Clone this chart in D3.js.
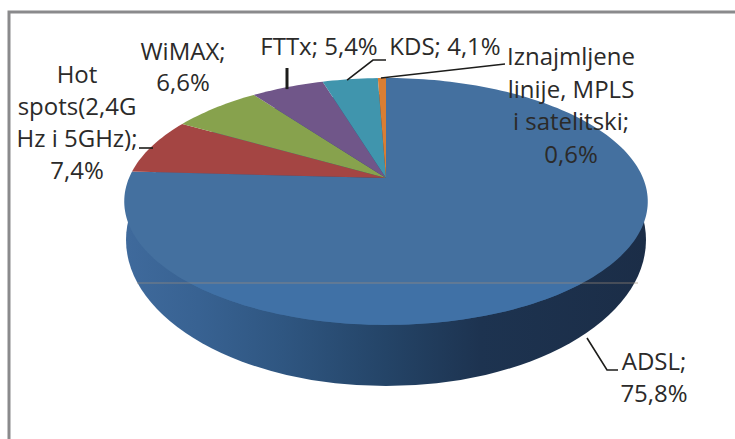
<!DOCTYPE html>
<html><head><meta charset="utf-8">
<script src="https://cdn.jsdelivr.net/npm/d3@7/dist/d3.min.js"></script>
<style>html,body{margin:0;padding:0;background:#fff}svg{display:block}text{font-family:"Open Sans",sans-serif;font-size:24px;fill:#2b2a29}</style>
</head><body><svg id="c" width="735" height="439"></svg>
<script>
const categories = ["ADSL","Hot spots(2,4G Hz i 5GHz)","WiMAX","FTTx","KDS","Iznajmljene linije, MPLS i satelitski"];
const values = [75.8,7.4,6.6,5.4,4.1,0.6];
const colors = ["#44709f","#a44543","#87a24d","#705689","#4095ad","#d97e33"];
const labelLines = [["ADSL;","75,8%"],["Hot","spots(2,4G","Hz i 5GHz);","7,4%"],["WiMAX;","6,6%"],["FTTx; 5,4%"],["KDS; 4,1%"],["Iznajmljene","linije, MPLS","i satelitski;","0,6%"]];

const W=735,H=439,X0=386,Y0=178,A=257,B=119,K=0.19;
const svg=d3.select("#c");
// projective mapping of the pie disc: a=clockwise angle from top
const proj=a=>{const u=Math.sin(a),v=Math.cos(a),w=1+K*v;
  return [X0+A*u/w, Y0-B*v/w];};
const pie=d3.pie().sort(null).value(d=>d);
const arcs=pie(values);
const line=d3.line();
const steps=a=>d3.range(0,1.0001,1/Math.max(4,Math.ceil((a.endAngle-a.startAngle)*40))).map(d3.interpolateNumber(a.startAngle,a.endAngle));

const defs=svg.append("defs");
const g=defs.append("linearGradient").attr("id","wall").attr("gradientUnits","userSpaceOnUse").attr("x1",125).attr("x2",648).attr("y1",0).attr("y2",0);
[[0,"#3f6a9c"],[0.14,"#386292"],[0.3,"#2f5681"],[0.5,"#244467"],[0.68,"#1d3350"],[1,"#1b2d47"]].forEach(s=>g.append("stop").attr("offset",s[0]).attr("stop-color",s[1]));
defs.append("clipPath").attr("id","below").append("rect").attr("x",0).attr("y",283).attr("width",W).attr("height",H-283);

// frame
svg.append("path").attr("d",line([[9,H],[9,12],[W,12]])).attr("fill","none").attr("stroke","#8a8a8c").attr("stroke-width",3);

// side wall: lower rim of the cylinder, hidden by the top face above it
svg.append("ellipse").attr("cx",X0).attr("cy",240).attr("rx",260).attr("ry",146).attr("fill","url(#wall)");

// top face
const slicePath=d=>line([[X0,Y0]].concat(steps(d).map(a=>proj(a))))+"Z";
svg.selectAll("path.slice").data(arcs).join("path").attr("class","slice")
  .attr("fill",(d,i)=>colors[i]).attr("d",slicePath);
// slightly more saturated band of the face below the seam
svg.append("path").datum(arcs[0]).attr("d",slicePath).attr("fill","#3f72aa").attr("opacity",0.7).attr("clip-path","url(#below)");

// faint seam across the picture
svg.append("path").attr("d",line([[137,283],[638,283]])).attr("stroke","#a08f7c").attr("stroke-width",1).attr("opacity",0.65);

// leaders, anchored on the rim of their slice
const mid=i=>(arcs[i].startAngle+arcs[i].endAngle)/2;
const leader=(pts,w=1.6)=>svg.append("path").attr("d",line(pts)).attr("fill","none").attr("stroke","#1d1d1b").attr("stroke-width",w);
leader([[587,338],[607,370],[618,370]]);
let p=proj(mid(1)); leader([[139,148],[153,148]]);
p=proj(mid(3)); leader([[287,68],[287,p[1]+2]],3);
p=proj(mid(4)); leader([[p[0]-3,p[1]+1],[373,60],[386,60]]);
p=proj(mid(5)); leader([[p[0]-1,p[1]],[505,64]]);

// labels
const labelAnchors=[[654,370],[77,83],[183,60],[319,55],[445,55],[571,65]];
const lineGap=[32,32,31,32,32,32.5];
labelLines.forEach((ls,i)=>{
  const t=svg.append("text").attr("text-anchor","middle");
  ls.forEach((s,j)=>t.append("tspan").attr("x",labelAnchors[i][0]).attr("y",labelAnchors[i][1]+j*lineGap[i]).text(s));
});
</script></body></html>
